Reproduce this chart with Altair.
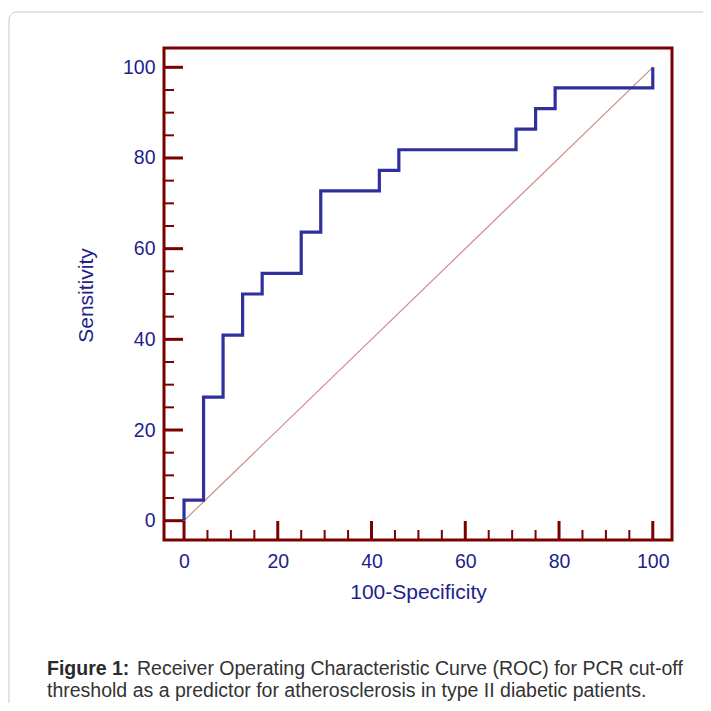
import altair as alt
import pandas as pd

# ROC curve vertices (100-Specificity, Sensitivity)
fpr = [0, 0, 4.17, 8.33, 12.5, 16.67, 25, 29.17, 41.67, 45.83, 70.83, 75, 79.17, 100]
sens = [0, 4.55, 27.27, 40.91, 50, 54.55, 63.64, 72.73, 77.27, 81.82, 86.36, 90.91, 95.45, 100]
diag = [0, 100]
major_ticks = [0, 20, 40, 60, 80, 100]
minor_ticks = [5, 10, 15, 25, 30, 35, 45, 50, 55, 65, 70, 75, 85, 90, 95]
caption_bold = "Figure 1:"
caption_line1 = "Receiver Operating Characteristic Curve (ROC) for PCR cut-off"
caption_line2 = "threshold as a predictor for atherosclerosis in type II diabetic patients."

MAROON = "#7b0000"
NAVY = "#1e1e8c"
LINE = "#30309c"
FONT = "Liberation Sans"

roc = pd.DataFrame({"x": fpr, "y": sens, "i": list(range(len(fpr)))})
dg = pd.DataFrame({"x": diag, "y": diag})
maj = pd.DataFrame({"v": major_ticks})
mnr = pd.DataFrame({"v": minor_ticks})
one = pd.DataFrame({"a": [0]})

xs = alt.Scale(domain=[-4.27, 104.1], nice=False, zero=False)
ys = alt.Scale(domain=[-4.26, 104.26], nice=False, zero=False)

xaxis = alt.Axis(values=major_ticks, ticks=False, domain=False, grid=False,
                 labelPadding=12, title="100-Specificity", titleY=58,
                 titleBaseline="alphabetic")
yaxis = alt.Axis(values=major_ticks, ticks=False, domain=False, grid=False,
                 labelPadding=9, title="Sensitivity", titleX=-71.5, titleY=247,
                 titleBaseline="alphabetic", titleAlign="center", titleAngle=270)

border = alt.Chart(one).mark_rect(
    fillOpacity=0, stroke="#c8c8c8", strokeWidth=1, cornerRadius=8
).encode(x=alt.value(-155), x2=alt.value(620), y=alt.value(-36), y2=alt.value(720))

diag_line = alt.Chart(dg).mark_line(color="#cc8a8a", strokeWidth=1.2).encode(
    x=alt.X("x:Q", scale=xs, axis=xaxis),
    y=alt.Y("y:Q", scale=ys, axis=yaxis),
)

roc_line = alt.Chart(roc).mark_line(color=LINE, strokeWidth=3.2, interpolate="step-after").encode(
    x=alt.X("x:Q", scale=xs),
    y=alt.Y("y:Q", scale=ys),
    order=alt.Order("i:Q"),
)

y_major = alt.Chart(maj).mark_rule(color=MAROON, strokeWidth=3).encode(
    y=alt.Y("v:Q", scale=ys), x=alt.value(0), x2=alt.value(19))
y_minor = alt.Chart(mnr).mark_rule(color=MAROON, strokeWidth=2).encode(
    y=alt.Y("v:Q", scale=ys), x=alt.value(0), x2=alt.value(10))
x_major = alt.Chart(maj).mark_rule(color=MAROON, strokeWidth=3).encode(
    x=alt.X("v:Q", scale=xs), y=alt.value(492), y2=alt.value(473))
x_minor = alt.Chart(mnr).mark_rule(color=MAROON, strokeWidth=2).encode(
    x=alt.X("v:Q", scale=xs), y=alt.value(492), y2=alt.value(482))

cap_b = alt.Chart(one).mark_text(
    text=caption_bold, font=FONT, fontSize=19.5, fontWeight="bold", color="#2a2a2a",
    align="left", baseline="alphabetic"
).encode(x=alt.value(-117), y=alt.value(627))
cap_1 = alt.Chart(one).mark_text(
    text=caption_line1, font=FONT, fontSize=19.5, color="#333333",
    align="left", baseline="alphabetic"
).encode(x=alt.value(-27), y=alt.value(627))
cap_2 = alt.Chart(one).mark_text(
    text=caption_line2, font=FONT, fontSize=19.5, color="#333333",
    align="left", baseline="alphabetic"
).encode(x=alt.value(-117), y=alt.value(649))

chart = alt.layer(
    border, diag_line, roc_line, y_major, y_minor, x_major, x_minor, cap_b, cap_1, cap_2
).properties(
    width=508, height=492,
    autosize=alt.AutoSizeParams(type="none"),
    padding={"left": 156, "top": 40, "right": 31, "bottom": 163},
    background="white",
).configure_view(
    stroke=MAROON, strokeWidth=3
).configure_axis(
    labelFont=FONT, labelFontSize=19.5, labelColor=NAVY,
    titleFont=FONT, titleFontSize=21, titleFontWeight="normal", titleColor=NAVY,
)

chart.save("out.html", embed_options={"renderer": "svg", "actions": False})
